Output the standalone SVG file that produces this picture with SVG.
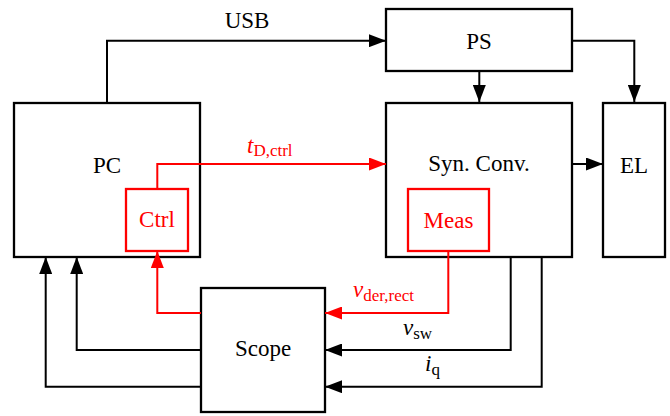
<svg xmlns="http://www.w3.org/2000/svg" width="670" height="416" viewBox="0 0 670 416">
<style>
.box{fill:#fff;stroke:#000;stroke-width:2.3}
.rbox{fill:none;stroke:#f00;stroke-width:2.3}
.ln{fill:none;stroke:#000;stroke-width:2}
.rln{fill:none;stroke:#f00;stroke-width:2}
.t{font-family:'Liberation Serif','Times New Roman','DejaVu Serif',serif;font-size:23px;text-anchor:middle}
.red{fill:#f00}
.it{font-style:italic}
.sub{font-size:17px;font-style:normal}
</style>
<defs>
<marker id="ah" markerUnits="userSpaceOnUse" markerWidth="17" markerHeight="13" refX="17" refY="6.5" orient="auto"><path d="M0,0 L17,6.5 L0,13 z" fill="#000"/></marker>
<marker id="ahr" markerUnits="userSpaceOnUse" markerWidth="17" markerHeight="13" refX="17" refY="6.5" orient="auto"><path d="M0,0 L17,6.5 L0,13 z" fill="#f00"/></marker>
</defs>
<g id="PC"><rect class="box" x="14" y="103" width="186" height="154"/><text class="t" x="107" y="173">PC</text></g>
<g id="PS"><rect class="box" x="386" y="9" width="186" height="62"/><text class="t" x="479" y="49">PS</text></g>
<g id="SynConv"><rect class="box" x="386" y="103" width="186" height="154"/><text class="t" x="479" y="171">Syn. Conv.</text></g>
<g id="EL"><rect class="box" x="603" y="103" width="62" height="154"/><text class="t" x="634" y="173">EL</text></g>
<g id="Scope"><rect class="box" x="201" y="288" width="124" height="124"/><text class="t" x="263" y="356">Scope</text></g>
<g id="Ctrl"><rect class="rbox" x="126" y="189" width="62" height="62"/><text class="t red" x="157" y="227">Ctrl</text></g>
<g id="Meas"><rect class="rbox" x="408" y="189" width="81" height="62"/><text class="t red" x="448.5" y="228">Meas</text></g>
<g id="connectors">
<path class="ln" d="M107,102 V40.7 H386" marker-end="url(#ah)"/>
<path class="ln" d="M479.3,71 V102" marker-end="url(#ah)"/>
<path class="ln" d="M572,40.7 H634.3 V102" marker-end="url(#ah)"/>
<path class="ln" d="M572,164 H603" marker-end="url(#ah)"/>
<path class="rln" d="M157.3,189 V164 H386" marker-end="url(#ahr)"/>
<path class="rln" d="M448.3,251 V313 H325" marker-end="url(#ahr)"/>
<path class="ln" d="M510.7,257 V350 H325" marker-end="url(#ah)"/>
<path class="ln" d="M541.7,257 V386.7 H325" marker-end="url(#ah)"/>
<path class="rln" d="M201,313 H157.3 V251" marker-end="url(#ahr)"/>
<path class="ln" d="M201,350 H76.7 V257" marker-end="url(#ah)"/>
<path class="ln" d="M201,386.7 H45.7 V257" marker-end="url(#ah)"/>
<text class="t" x="247" y="28">USB</text>
<text class="t red" x="247" y="153" style="text-anchor:start"><tspan class="it">t</tspan><tspan class="sub" dy="3">D,ctrl</tspan></text>
<text class="t red" x="353" y="297" style="text-anchor:start"><tspan class="it">v</tspan><tspan class="sub" dy="4">der,rect</tspan></text>
<text class="t" x="403" y="335" style="text-anchor:start"><tspan class="it">v</tspan><tspan class="sub" dy="4">sw</tspan></text>
<text class="t" x="425" y="371" style="text-anchor:start"><tspan class="it">i</tspan><tspan class="sub" dy="4">q</tspan></text>
</g>
</svg>
